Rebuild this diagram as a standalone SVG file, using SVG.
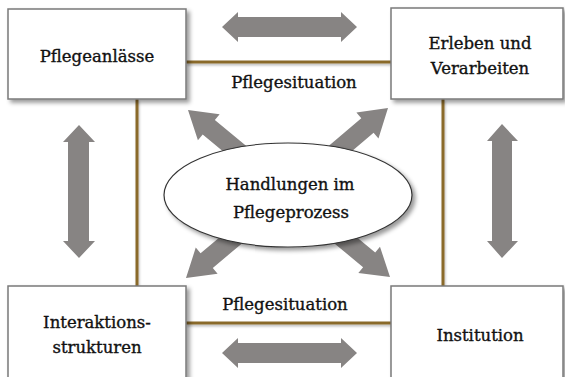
<svg xmlns="http://www.w3.org/2000/svg" width="565" height="377" viewBox="0 0 565 377">
<defs>
<style>
.box{fill:#fff;stroke:#7a7a7a;stroke-width:1.5}
.t{font-family:"DejaVu Serif","Liberation Serif",serif;font-size:16.5px;fill:#111;stroke:#111;stroke-width:0.35;text-anchor:middle}
.link{stroke:#8a6a2c;stroke-width:3;fill:none}
.arr{fill:#878483}
</style>
<filter id="sh" x="-10%" y="-10%" width="130%" height="140%">
<feDropShadow dx="3" dy="3" stdDeviation="2" flood-color="#000" flood-opacity="0.4"/>
</filter>
<filter id="lsh" x="-10%" y="-50%" width="120%" height="300%">
<feDropShadow dx="1" dy="2" stdDeviation="1.2" flood-color="#000" flood-opacity="0.25"/>
</filter>
<polygon id="da" points="0,0 -27,-17 -27,-9.5 -85,-9.5 -85,9.5 -27,9.5 -27,17"/>
</defs>
<rect width="565" height="377" fill="#fff"/>
<g id="connectors">
<g filter="url(#lsh)">
<line class="link" x1="186" y1="62" x2="391" y2="62"/>
<line class="link" x1="186" y1="323" x2="391" y2="323"/>
<line class="link" x1="137" y1="99" x2="137" y2="286"/>
<line class="link" x1="443" y1="99" x2="443" y2="286"/>
</g>
<polygon class="arr" points="222,27 238,12 238,17 341,17 341,12 357,27 341,42 341,37 238,37 238,42"/>
<polygon class="arr" points="222,353 238,338 238,343 341,343 341,338 357,353 341,368 341,363 238,363 238,368"/>
<polygon class="arr" points="79,125 95,142 89,142 89,241 95,241 79,258 63,241 68,241 68,142 63,142"/>
<polygon class="arr" points="502,124 518,141 512,141 512,241 518,241 502,258 487,241 492,241 492,141 487,141"/>
<use href="#da" class="arr" transform="translate(188,110) rotate(219.7)"/>
<use href="#da" class="arr" transform="translate(388,108) rotate(-40.4)"/>
<use href="#da" class="arr" transform="translate(186,278) rotate(140)"/>
<use href="#da" class="arr" transform="translate(390,277) rotate(39.5)"/>
</g>
<g id="n-pflegeanlaesse">
<rect class="box" x="8" y="9" width="178" height="90" filter="url(#sh)"/>
<text class="t" x="97" y="62">Pflegeanlässe</text>
</g>
<g id="n-erleben">
<rect class="box" x="391" y="8" width="172" height="91" filter="url(#sh)"/>
<text class="t" x="480" y="49">Erleben und</text>
<text class="t" x="480" y="74">Verarbeiten</text>
</g>
<g id="n-interaktion">
<rect class="box" x="8" y="286" width="178" height="100" filter="url(#sh)"/>
<text class="t" x="97" y="328">Interaktions-</text>
<text class="t" x="97" y="353">strukturen</text>
</g>
<g id="n-institution">
<rect class="box" x="391" y="286" width="172" height="100" filter="url(#sh)"/>
<text class="t" x="480" y="341">Institution</text>
</g>
<g id="n-handlungen">
<ellipse cx="288" cy="195" rx="124" ry="52" fill="#fff" stroke="#333" stroke-width="1.2" filter="url(#sh)"/>
<text class="t" x="290" y="190">Handlungen im</text>
<text class="t" x="291" y="218">Pflegeprozess</text>
</g>
<g id="labels">
<text class="t" x="294" y="88">Pflegesituation</text>
<text class="t" x="285" y="310">Pflegesituation</text>
</g>
</svg>
